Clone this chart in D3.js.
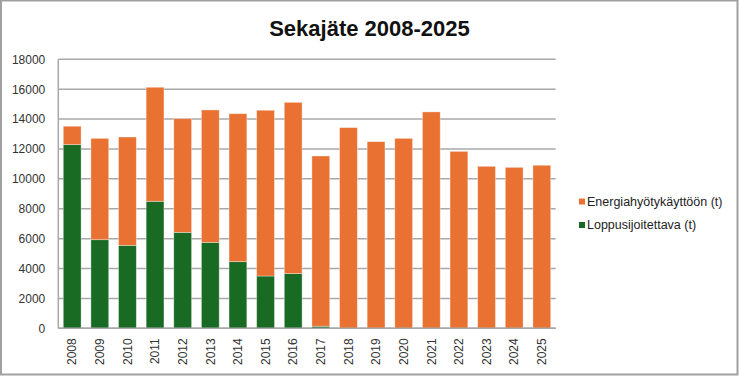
<!DOCTYPE html>
<html>
<head>
<meta charset="utf-8">
<script src="https://cdn.jsdelivr.net/npm/d3@7"></script>
<style>
  body { margin: 0; background: #fff; }
  text { font-family: "Liberation Sans", Arial, sans-serif; }
</style>
</head>
<body>
<script>
// data
var years = ["2008","2009","2010","2011","2012","2013","2014","2015","2016","2017",
             "2018","2019","2020","2021","2022","2023","2024","2025"];
var loppusijoitettava = [12290, 5930, 5550, 8500, 6420, 5750, 4460, 3500, 3660, 140,
                         0, 0, 0, 0, 0, 0, 0, 0];
var energia = [1230, 6780, 7250, 7630, 7610, 8860, 9900, 11090, 11460, 11390,
               13430, 12490, 12710, 14480, 11840, 10840, 10770, 10910];
var yTicks = [0, 2000, 4000, 6000, 8000, 10000, 12000, 14000, 16000, 18000];
var seriesNames = ["Loppusijoitettava (t)", "Energiahyötykäyttöön (t)"];
var colours = ["#196b24", "#e97132"];

function init(){
    var w = 739;
    var h = 376;
    var margin = {top: 59.3, right: 183.3, bottom: 47.7, left: 58.3};
    var iw = w - margin.left - margin.right;
    var ih = h - margin.top - margin.bottom;

    var svg = d3.select("body")
                .append("svg")
                .attr("width", w)
                .attr("height", h);

    // outer chart border
    svg.append("rect")
        .attr("x", 1).attr("y", 0.5)
        .attr("width", w - 2.5).attr("height", h - 2)
        .attr("fill", "none")
        .attr("stroke", "#a0a0a0")
        .attr("stroke-width", 2);

    svg.append("text")
        .attr("x", 369.5).attr("y", 35.5)
        .attr("text-anchor", "middle")
        .attr("font-size", 22)
        .attr("font-weight", "bold")
        .attr("fill", "#111")
        .text("Sekajäte 2008-2025");

    var g = svg.append("g")
               .attr("transform", "translate(" + margin.left + "," + margin.top + ")");

    var x = d3.scaleBand()
              .domain(years)
              .range([0, iw])
              .paddingInner(0.355)
              .paddingOuter(0.18);

    var y = d3.scaleLinear()
              .domain([0, 18000])
              .range([ih, 0]);

    // gridlines
    g.selectAll(".grid")
        .data(yTicks)
        .enter()
        .append("line")
        .attr("x1", 0).attr("x2", iw)
        .attr("y1", function(d){ return y(d); })
        .attr("y2", function(d){ return y(d); })
        .attr("stroke", "#a8a8a8")
        .attr("stroke-width", 1.5);

    // left axis line
    g.append("line")
        .attr("x1", 0).attr("x2", 0)
        .attr("y1", 0).attr("y2", ih)
        .attr("stroke", "#a8a8a8")
        .attr("stroke-width", 1.5);

    // y axis labels
    var yAxis = d3.axisLeft(y).tickValues(yTicks).tickFormat(d3.format("d"))
                  .tickSize(0).tickPadding(13);
    var ya = g.append("g").call(yAxis);
    ya.select(".domain").remove();
    ya.selectAll("text")
        .attr("font-size", 12)
        .attr("font-family", "Liberation Sans, Arial, sans-serif")
        .attr("fill", "#333");

    // x axis labels
    var xAxis = d3.axisBottom(x).tickSize(0);
    var xa = g.append("g").attr("transform", "translate(0," + ih + ")").call(xAxis);
    xa.select(".domain").remove();
    xa.selectAll("text")
        .attr("font-size", 12)
        .attr("font-family", "Liberation Sans, Arial, sans-serif")
        .attr("fill", "#333")
        .attr("text-anchor", "end")
        .attr("transform", "rotate(-90)")
        .attr("x", -10)
        .attr("y", 0)
        .attr("dy", "0.35em");

    // stacked data
    var table = years.map(function(yr, i){
        return {year: yr, lopp: loppusijoitettava[i], energia: energia[i]};
    });
    var stack = d3.stack().keys(["lopp", "energia"]);
    var layers = stack(table);

    g.selectAll(".layer")
        .data(layers)
        .enter()
        .append("g")
        .attr("fill", function(d, i){ return colours[i]; })
        .selectAll("rect")
        .data(function(d){ return d; })
        .enter()
        .append("rect")
        .attr("x", function(d){ return x(d.data.year); })
        .attr("width", x.bandwidth())
        .attr("y", function(d){ return y(d[1]); })
        .attr("height", function(d){ return Math.max(0, y(d[0]) - y(d[1])); })
        .attr("stroke", "#ffffff")
        .attr("stroke-opacity", 0.45)
        .attr("stroke-width", 0.8);

    // bottom axis line over bars
    g.append("line")
        .attr("x1", 0).attr("x2", iw)
        .attr("y1", ih).attr("y2", ih)
        .attr("stroke", "#a8a8a8")
        .attr("stroke-width", 1.5);

    // legend (orange first)
    var legendItems = [
        {name: seriesNames[1], colour: colours[1]},
        {name: seriesNames[0], colour: colours[0]}
    ];
    var lg = svg.selectAll(".legend")
        .data(legendItems)
        .enter()
        .append("g")
        .attr("transform", function(d, i){ return "translate(579," + (201.5 + i * 23.5) + ")"; });
    lg.append("rect")
        .attr("x", 0).attr("y", -3)
        .attr("width", 6).attr("height", 6)
        .attr("fill", function(d){ return d.colour; });
    lg.append("text")
        .attr("x", 8).attr("y", 0)
        .attr("dy", "0.35em")
        .attr("font-size", 12.5)
        .attr("fill", "#222")
        .text(function(d){ return d.name; });
}
window.onload = init;
</script>
</body>
</html>
